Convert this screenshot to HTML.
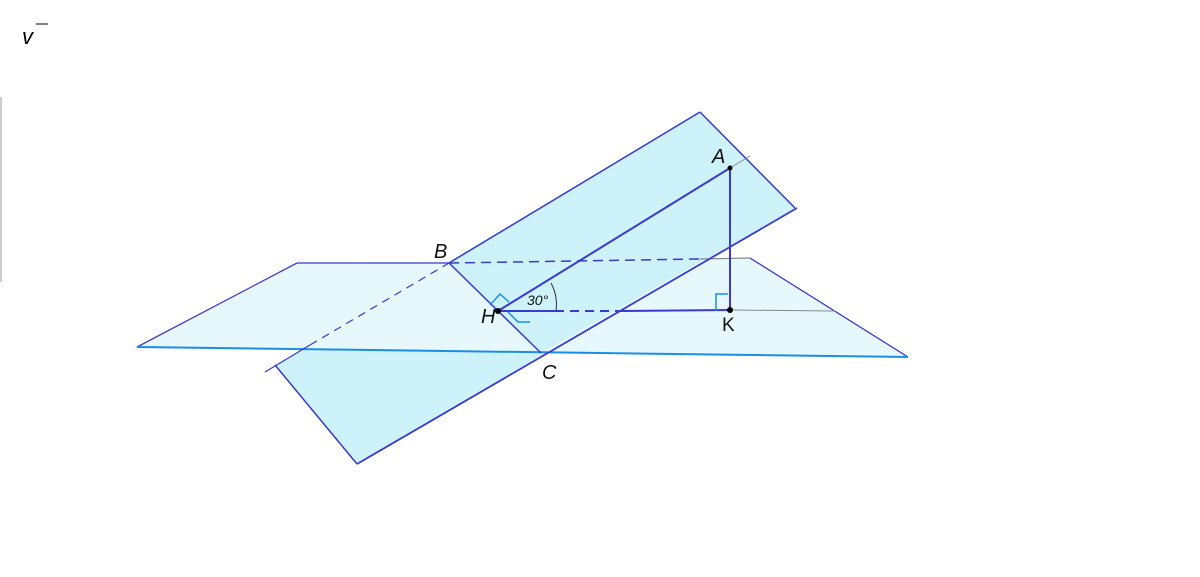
<!DOCTYPE html>
<html><head><meta charset="utf-8"><style>body{margin:0;background:#fff}svg{display:block}</style></head><body>
<svg width="1200" height="577" viewBox="0 0 1200 577" xmlns="http://www.w3.org/2000/svg" font-family="Liberation Sans, sans-serif">
<line x1="1" y1="97" x2="1" y2="282" stroke="#bbb" stroke-width="1.5"/>
<text x="22" y="44" font-size="22" font-style="italic">v</text>
<line x1="36" y1="24" x2="48" y2="24" stroke="#000" stroke-width="1"/>
<!-- inclined plane (full) -->
<polygon points="275,365 700,112 795,208 357,464" fill="#cdf2fa"/>
<!-- horizontal plane -->
<polygon points="137,347 297,263 750,258 908,357" fill="#e6f8fc"/>
<!-- upper part of inclined plane above horizontal -->
<polygon points="449,263 700,112 795,208 541,353" fill="#cdf2fa"/>
<!-- horizontal plane edges -->
<line x1="137" y1="347" x2="297" y2="263" stroke="#4a3ac8" stroke-width="1.3"/>
<line x1="297" y1="263" x2="449" y2="263" stroke="#3a3acc" stroke-width="1.3"/>
<line x1="449" y1="263" x2="700" y2="259" stroke="#3a3acc" stroke-width="1.5" stroke-dasharray="10,6"/>
<line x1="700" y1="259" x2="750" y2="258" stroke="#888" stroke-width="1.2"/>
<line x1="750" y1="258" x2="908" y2="357" stroke="#3a3acc" stroke-width="1.3"/>
<line x1="137" y1="347" x2="908" y2="357" stroke="#1a8ee6" stroke-width="2"/>
<!-- inclined plane edges -->
<line x1="265" y1="372" x2="310" y2="345" stroke="#3a3acc" stroke-width="1.2"/>
<line x1="310" y1="345" x2="449" y2="263" stroke="#3a3acc" stroke-width="1.2" stroke-dasharray="8,6"/>
<line x1="449" y1="263" x2="700" y2="112" stroke="#3a3acc" stroke-width="1.5"/>
<line x1="700" y1="112" x2="795" y2="208" stroke="#3a3acc" stroke-width="1.5"/>
<line x1="357" y1="464" x2="797" y2="208" stroke="#3a3acc" stroke-width="1.8"/>
<line x1="275" y1="365" x2="357" y2="464" stroke="#3a3acc" stroke-width="1.5"/>
<!-- BC -->
<line x1="449" y1="263" x2="541" y2="353" stroke="#3a3acc" stroke-width="1.5"/>
<!-- HA -->
<line x1="498" y1="311" x2="730" y2="168" stroke="#3a3acc" stroke-width="2"/>
<line x1="730" y1="168" x2="750" y2="156" stroke="#888" stroke-width="1"/>
<!-- AK -->
<line x1="730" y1="168" x2="730" y2="310" stroke="#3a3acc" stroke-width="2"/>
<!-- HK -->
<line x1="498" y1="311" x2="555" y2="311" stroke="#3a3acc" stroke-width="2"/>
<line x1="555" y1="311" x2="620" y2="311" stroke="#3a3acc" stroke-width="2" stroke-dasharray="9,6"/>
<line x1="620" y1="311" x2="730" y2="310" stroke="#3a3acc" stroke-width="2"/>
<line x1="730" y1="310" x2="835" y2="311" stroke="#888" stroke-width="1"/>
<!-- angle arc -->
<path d="M551,283 Q558,296 556,311" fill="none" stroke="#333" stroke-width="1"/>
<!-- right angle marks -->
<polyline points="716,311 716,294 728,294" fill="none" stroke="#1a8ee6" stroke-width="1.5"/>
<polyline points="490,305 500,294 509,302" fill="none" stroke="#1a8ee6" stroke-width="1.5"/>
<polyline points="508,312 518,322 530,322" fill="none" stroke="#1a8ee6" stroke-width="1.5"/>
<circle cx="498" cy="311" r="3" fill="#000"/>
<circle cx="730" cy="168" r="2.5" fill="#000"/>
<circle cx="730" cy="310" r="3" fill="#000"/>
<g font-size="20" font-style="italic" fill="#111">
<text x="712" y="163">A</text>
<text x="434" y="258">B</text>
<text x="542" y="379">C</text>
<text x="481" y="323">H</text>
</g>
<text x="722" y="331" font-size="19" fill="#111">K</text>
<text x="527" y="305" font-size="14" font-style="italic" fill="#111">30°</text>
</svg>
</body></html>
